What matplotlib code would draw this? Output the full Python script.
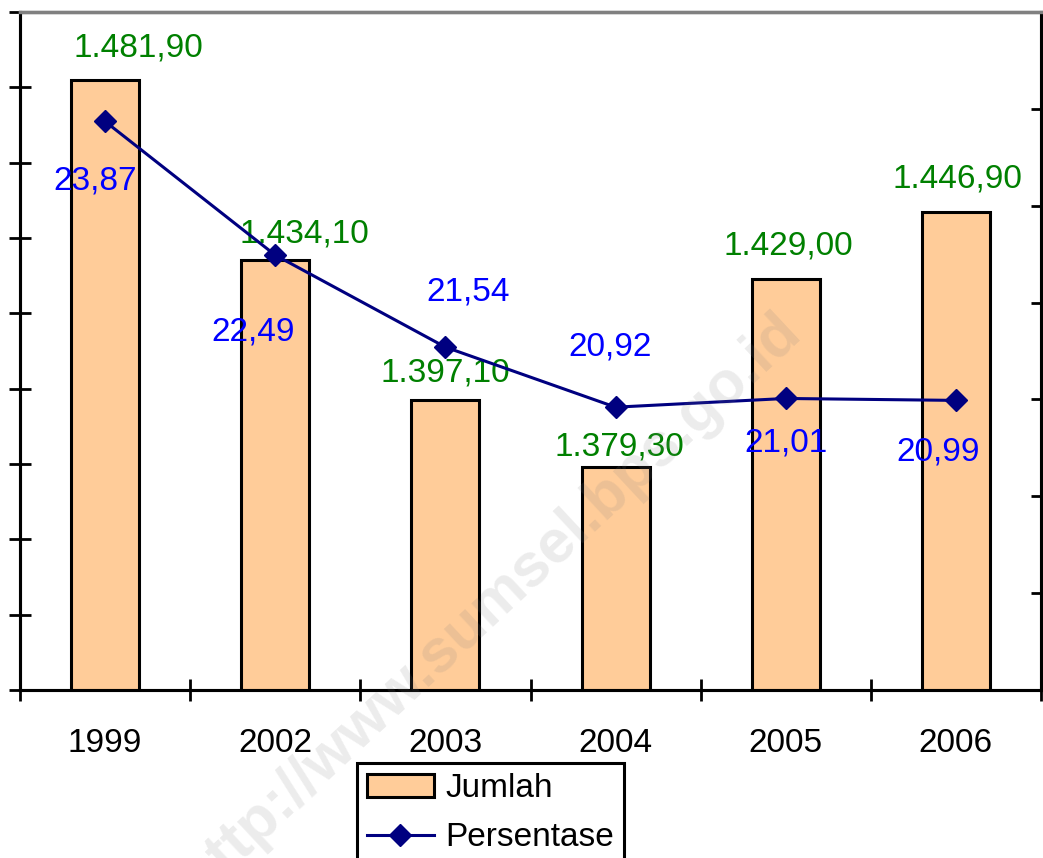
import matplotlib
matplotlib.use('Agg')
import matplotlib.pyplot as plt

plt.rcParams['font.family'] = ['Liberation Sans', 'DejaVu Sans']

# data
years = ['1999', '2002', '2003', '2004', '2005', '2006']
jumlah = [1481.90, 1434.10, 1397.10, 1379.30, 1429.00, 1446.90]
persentase = [23.87, 22.49, 21.54, 20.92, 21.01, 20.99]

# label offsets (points) - placed by hand in the original
jumlah_off = [(24, 23), (21, 19), (0, 19), (3, 14), (2, 24), (1, 24)]
persen_off = [(-7, -43), (-16, -55), (16, 40), (-4, 43), (0, -32), (-13, -37)]


def fmt_id(v):
    # Indonesian number style: 1.481,90
    s = f"{v:,.2f}"
    return s.replace(',', 'X').replace('.', ',').replace('X', '.')


fig = plt.figure(figsize=(10.43, 8.58), dpi=100)
ax = fig.add_axes([20/1043, 1-690/858, 1021/1043, 678/858])
ax2 = ax.twinx()

x = list(range(len(years)))
bars = ax.bar(x, jumlah, width=0.4, color='#FFCC99', edgecolor='black',
              linewidth=2.2, label='Jumlah', zorder=2)
line, = ax2.plot(x, persentase, color='#000080', linewidth=2.2, marker='D',
                 markersize=11, markerfacecolor='#000080', markeredgecolor='#000080',
                 label='Persentase', zorder=3)

ax.set_xlim(-0.5, 5.5)
ax.set_ylim(1320, 1500)
ax2.set_ylim(18, 25)

# x axis: labels at centres, tick marks at category borders
ax.set_xticks(x)
ax.set_xticklabels(years, fontsize=24)
ax.tick_params(axis='x', which='major', length=0, pad=27)
ax.set_xticks([i - 0.5 for i in range(len(years) + 1)], minor=True)
ax.tick_params(axis='x', which='minor', direction='inout', length=16, width=2)

ax.set_yticks([1320 + 20*i for i in range(10)])
ax.set_yticklabels([])
ax.tick_params(axis='y', direction='inout', length=16, width=2)

ax2.set_yticks(list(range(18, 26)))
ax2.set_yticklabels([])
ax2.tick_params(axis='y', direction='in', length=7, width=2)
ax2.tick_params(axis='x', which='both', length=0)

for a in (ax, ax2):
    for side in ('left', 'bottom', 'right'):
        a.spines[side].set_color('black')
        a.spines[side].set_linewidth(2.2)
    a.spines['top'].set_color('#808080')
    a.spines['top'].set_linewidth(2.4)

for i, v in enumerate(jumlah):
    ax.annotate(fmt_id(v), (x[i], v), xytext=jumlah_off[i], textcoords='offset points',
                ha='center', va='center', fontsize=24, color='#008000', zorder=4)

for i, v in enumerate(persentase):
    ax2.annotate(fmt_id(v), (x[i], v), xytext=persen_off[i], textcoords='offset points',
                 ha='center', va='center', fontsize=24, color='#0000FF', zorder=4)

leg = fig.legend([bars, line], ['Jumlah', 'Persentase'], loc='upper left',
                 bbox_to_anchor=(357/1043, 1-763/858), fontsize=24, fancybox=False,
                 framealpha=1, edgecolor='black', borderaxespad=0, borderpad=0.3,
                 handlelength=2.0, handletextpad=0.35, labelspacing=0.55)
leg.get_frame().set_linewidth(2.2)

# watermark
fig.text(0.470, 0.295, 'http://www.sumsel.bps.go.id', rotation=43, ha='center',
         va='center', fontsize=44, fontweight='bold', color='#808080', alpha=0.15,
         zorder=10)

fig.savefig('out.png', dpi=100)
